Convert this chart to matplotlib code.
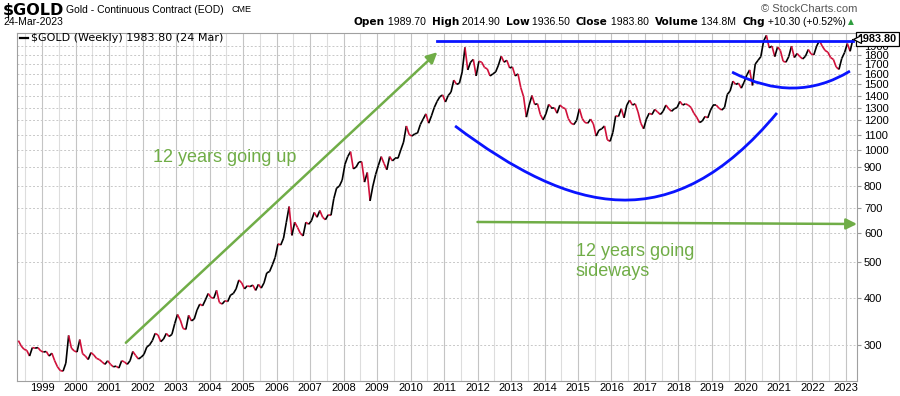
import numpy as np
import matplotlib
matplotlib.use('Agg')
import matplotlib.pyplot as plt
from matplotlib.collections import LineCollection
from matplotlib.path import Path
import matplotlib.patches as patches
import matplotlib.transforms as mtransforms

# monthly closes, Apr 1998 .. Mar 2023
prices_1998_2004 = [
    308, 298, 292, 290, 280, 295, 294, 295, 289,
    287, 288, 280, 285, 272, 262, 256, 255, 268, 318, 294, 289,
    287, 310, 284, 280, 274, 286, 282, 276, 274, 270, 266, 272,
    266, 262, 263, 260, 272, 270, 266, 272, 288, 281, 275, 278,
    283, 296, 300, 308, 322, 319, 306, 311, 322, 316, 320, 342,
    362, 350, 332, 330, 360, 348, 352, 372, 386, 382, 396, 412,
    402, 400, 420, 390, 386, 394, 392, 408, 412, 424, 448, 440,
]
prices_2005_2011 = [
    424, 432, 430, 434, 420, 436, 426, 440, 468, 472, 492, 515,
    560, 556, 580, 640, 705, 590, 640, 620, 598, 588, 640, 632,
    646, 680, 660, 688, 660, 650, 670, 668, 740, 790, 800, 830,
    915, 960, 990, 890, 900, 928, 930, 820, 870, 730, 800, 860,
    910, 960, 920, 885, 960, 935, 950, 950, 1000, 1050, 1160, 1100,
    1090, 1105, 1110, 1170, 1210, 1250, 1180, 1235, 1300, 1350, 1390, 1405,
    1345, 1400, 1430, 1540, 1500, 1510, 1620, 1885, 1640, 1720, 1750, 1580,
]
prices_2012_2018 = [
    1730, 1720, 1665, 1650, 1580, 1600, 1620, 1690, 1785, 1720, 1740, 1660,
    1670, 1580, 1600, 1470, 1390, 1225, 1320, 1400, 1325, 1330, 1245, 1205,
    1250, 1325, 1300, 1300, 1255, 1320, 1300, 1290, 1215, 1180, 1170, 1200,
    1290, 1215, 1185, 1180, 1210, 1175, 1090, 1130, 1140, 1160, 1065, 1055,
    1115, 1235, 1230, 1290, 1220, 1320, 1360, 1320, 1330, 1265, 1180, 1140,
    1210, 1255, 1245, 1285, 1265, 1245, 1270, 1320, 1290, 1270, 1290, 1300,
    1350, 1320, 1330, 1320, 1300, 1255, 1225, 1185, 1195, 1230, 1220, 1280,
]
prices_2019_2023 = [
    1320, 1320, 1295, 1280, 1300, 1410, 1440, 1530, 1500, 1510, 1465, 1520,
    1590, 1640, 1490, 1700, 1740, 1780, 1960, 2030, 1880, 1900, 1780, 1890,
    1850, 1730, 1720, 1780, 1900, 1770, 1815, 1780, 1755, 1785, 1860, 1810,
    1800, 1900, 1965, 1900, 1850, 1830, 1770, 1750, 1670, 1645, 1760, 1825,
    1930, 1840, 1983.8,
]
start_year = 1998
start_month = 4
year_labels = list(range(1999, 2024))
price_ticks = [300, 400, 500, 600, 700, 800, 900, 1000, 1100, 1200, 1300,
               1400, 1500, 1600, 1700, 1800, 1900]
last_close = 1983.80

prices = np.array(prices_1998_2004 + prices_2005_2011 + prices_2012_2018 + prices_2019_2023, dtype=float)
t = start_year + (start_month - 1 + np.arange(len(prices)) + 0.5) / 12.0

W, H = 900, 396
fig = plt.figure(figsize=(9, 3.96), dpi=100)
plt.rcParams['font.family'] = ['Liberation Sans', 'DejaVu Sans']
ax = fig.add_axes([17 / W, 1 - 381 / H, 840 / W, 348 / H])

def fx(px):
    return px / W

def fy(py):
    return 1 - py / H

# price line: black going up, crimson going down
pts = np.column_stack([t, prices])
segs = np.stack([pts[:-1], pts[1:]], axis=1)
cols = ['black' if b >= a else '#d0103a' for a, b in zip(prices[:-1], prices[1:])]
lc = LineCollection(segs, colors=cols, linewidths=1.2, zorder=3)
ax.add_collection(lc)

ax.set_yscale('log')
ax.set_xlim(1998.25, 2023.33)
ax.set_ylim(240, 2060)

ax.set_xticks(year_labels)
ax.set_xticklabels([str(y) for y in year_labels], fontsize=8)
ax.set_xticks(np.arange(1998.5, 2023.5, 1.0), minor=True)
ax.tick_params(axis='x', which='both', length=0, pad=1.5)

ax.yaxis.tick_right()
ax.set_yticks(price_ticks)
ax.set_yticklabels([str(p) for p in price_ticks], fontsize=8)
ax.yaxis.set_minor_locator(matplotlib.ticker.NullLocator())
ax.tick_params(axis='y', which='major', length=3, color='#999999', pad=2)

ax.grid(axis='x', which='major', color='#c4c4c4', linewidth=0.8)
ax.grid(axis='x', which='minor', color='#dddddd', linewidth=0.8)
ax.grid(axis='y', which='major', color='#c8c8c8', linewidth=0.7, linestyle=(0, (2, 2)))
for s in ax.spines.values():
    s.set_color('#a0a0a0')
    s.set_linewidth(0.8)

# annotations
green = '#70ad47'
blue = '#0a14ff'
ax.annotate('', xy=(2010.8, 1830), xytext=(2001.5, 304),
            arrowprops=dict(arrowstyle='-|>', color=green, lw=1.8, mutation_scale=16,
                            shrinkA=0, shrinkB=0), zorder=4)
ax.annotate('', xy=(2023.33, 633), xytext=(2012.0, 641),
            arrowprops=dict(arrowstyle='-|>', color=green, lw=1.8, mutation_scale=16,
                            shrinkA=0, shrinkB=0), zorder=4)
ax.plot([2010.8, 2023.2], [1955, 1955], color=blue, lw=2, zorder=4)

big_arc = Path([(2011.33, 1160), (2014.82, 674), (2017.78, 574), (2020.94, 1257)],
               [Path.MOVETO, Path.CURVE4, Path.CURVE4, Path.CURVE4])
ax.add_patch(patches.PathPatch(big_arc, fc='none', ec=blue, lw=2, zorder=4))
small_arc = Path([(2019.6, 1618), (2021.48, 1324), (2023.12, 1628)],
                 [Path.MOVETO, Path.CURVE3, Path.CURVE3])
ax.add_patch(patches.PathPatch(small_arc, fc='none', ec=blue, lw=2, zorder=4))

fig.text(fx(153), fy(158), '12 years going up', color=green, fontsize=13, va='center', ha='left')
fig.text(fx(576), fy(252), '12 years going', color=green, fontsize=13, va='center', ha='left')
fig.text(fx(576), fy(272), 'sideways', color=green, fontsize=13, va='center', ha='left')

# legend line inside chart
fig.lines.append(matplotlib.lines.Line2D([fx(20), fx(28)], [fy(38), fy(38)], color='black', lw=1.6,
                                         transform=fig.transFigure))
fig.text(fx(31), fy(38), '$GOLD (Weekly) 1983.80 (24 Mar)', fontsize=8, va='center', ha='left',
         family='DejaVu Sans')

# last price tag
tag_trans = mtransforms.blended_transform_factory(fig.transFigure, ax.transData)
ax.text(fx(897), last_close, '1983.80', transform=tag_trans, fontsize=7.8, fontweight='bold',
        va='center', ha='right', zorder=6, clip_on=False,
        bbox=dict(boxstyle='square,pad=0.15', fc='white', ec='black', lw=0.9))
ax.plot([fx(857)], [last_close], transform=tag_trans, marker='<', ms=6, mfc='white', mec='black',
        mew=0.9, clip_on=False, zorder=7)

# header
fig.text(fx(3), fy(10), '$GOLD', fontsize=11.5, fontweight='bold', family='DejaVu Sans', va='center')
fig.text(fx(66), fy(10), 'Gold - Continuous Contract (EOD)', fontsize=7.5, va='center')
fig.text(fx(232), fy(10), 'CME', fontsize=6.5, va='center')
fig.text(fx(3), fy(22), '24-Mar-2023', fontsize=7.5, va='center')
fig.text(fx(857), fy(9), '\u00a9 StockCharts.com', fontsize=8, color='#555555', va='center', ha='right')

pieces = [('Open', True), (' 1989.70  ', False), ('High', True), (' 2014.90  ', False),
          ('Low', True), (' 1936.50  ', False), ('Close', True), (' 1983.80  ', False),
          ('Volume', True), (' 134.8M  ', False), ('Chg', True), (' +10.30 (+0.52%)', False)]
renderer = fig.canvas.get_renderer()
x = 354
for txt, bold in pieces:
    if bold:
        tt = fig.text(fx(x), fy(22), txt, fontsize=7.6, fontweight='bold', family='DejaVu Sans', va='center')
    else:
        tt = fig.text(fx(x), fy(22), txt, fontsize=7.6, va='center')
    bb = tt.get_window_extent(renderer)
    x += bb.width
fig.text(fx(x + 2), fy(22), '\u25b2', fontsize=5.5, color='#2e9e3e', va='center', family='DejaVu Sans')

fig.savefig('out.png', dpi=100)
